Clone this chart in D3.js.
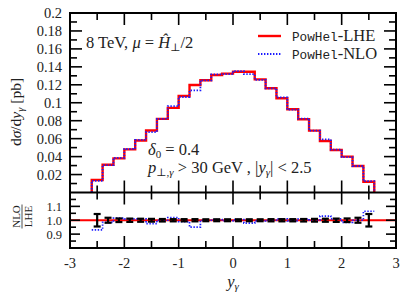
<!DOCTYPE html>
<html>
<head>
<meta charset="utf-8">
<script src="https://d3js.org/d3.v7.min.js"></script>
<style>
  body { margin: 0; background: #fff; }
  svg { display: block; }
  text { font-family: "Liberation Serif", "DejaVu Serif", serif; fill: #222; }
  .mono { font-family: "Liberation Mono", "DejaVu Sans Mono", monospace; }
</style>
</head>
<body>
<svg id="chart" width="415" height="299"></svg>
<script>
// bin edges in y_gamma
var binEdges = [-2.6, -2.4, -2.2, -2.0, -1.8, -1.6, -1.4, -1.2, -1.0, -0.8, -0.6, -0.4, -0.2,
                0.0, 0.2, 0.4, 0.6, 0.8, 1.0, 1.2, 1.4, 1.6, 1.8, 2.0, 2.2, 2.4, 2.6];
// PowHel-LHE dsigma/dy [pb]
var lheValues = [0.014, 0.031, 0.038, 0.048, 0.058, 0.069, 0.082, 0.0943, 0.1075, 0.1198, 0.125, 0.1309, 0.1325,
                 0.1346, 0.1346, 0.1261, 0.1161, 0.105, 0.0927, 0.0816, 0.0689, 0.0574, 0.0474, 0.040, 0.0295, 0.012];
// NLO / LHE ratio
var ratioValues = [0.93, 0.985, 1.015, 1.01, 1.01, 0.975, 1.0, 1.02, 0.99, 0.95, 1.0, 1.005, 0.995,
                   1.005, 0.98, 0.995, 1.0, 1.01, 0.995, 1.01, 1.0, 1.03, 1.01, 0.985, 1.0, 1.065];
// statistical error on ratio
var ratioErrors = [0.045, 0.018, 0.013, 0.012, 0.011, 0.01, 0.009, 0.008, 0.008, 0.008, 0.007, 0.007, 0.007,
                   0.007, 0.007, 0.007, 0.008, 0.008, 0.008, 0.009, 0.01, 0.011, 0.012, 0.013, 0.018, 0.045];
var xTicks = [-3, -2, -1, 0, 1, 2, 3];
var yTicks = [0.02, 0.04, 0.06, 0.08, 0.1, 0.12, 0.14, 0.16, 0.18, 0.2];
var yTickLabels = ["0.02", "0.04", "0.06", "0.08", "0.1", "0.12", "0.14", "0.16", "0.18", "0.2"];
var rTicks = [0.9, 1.0, 1.1];
var rTickLabels = ["0.9", "1.0", "1.1"];

var nloValues = lheValues.map(function (v, i) { return v * ratioValues[i]; });

var L = 70, R = 396, T = 13, MB = 192.5, RB = 248;
var svg = d3.select("#chart");

var x = d3.scaleLinear().domain([-3, 3]).range([L, R]);
var y = d3.scaleLinear().domain([0, 0.2]).range([MB, T]);
var yr = d3.scaleLinear().domain([0.8, 1.2]).range([RB, MB]);

function mainPts(vals) {
    var p = [[binEdges[0], 0]];
    vals.forEach(function (v, i) { p.push([binEdges[i], v]); });
    p.push([binEdges[binEdges.length - 1], 0]);
    return p;
}
function ratioPts(vals) {
    var p = vals.map(function (v, i) { return [binEdges[i], v]; });
    p.push([binEdges[binEdges.length - 1], vals[vals.length - 1]]);
    return p;
}
var lineMain = d3.line().x(function (d) { return x(d[0]); }).y(function (d) { return y(d[1]); }).curve(d3.curveStepAfter);
var lineRatio = d3.line().x(function (d) { return x(d[0]); }).y(function (d) { return yr(d[1]); }).curve(d3.curveStepAfter);

// histograms
svg.append("path").attr("d", lineMain(mainPts(lheValues)))
    .attr("fill", "none").attr("stroke", "#ff0000").attr("stroke-width", 2.4);
svg.append("path").attr("d", lineMain(mainPts(nloValues)))
    .attr("fill", "none").attr("stroke", "#1a1aff").attr("stroke-width", 1.8)
    .attr("stroke-dasharray", "1.4,1.6");

// ratio panel
svg.append("line").attr("x1", L).attr("x2", R).attr("y1", yr(1)).attr("y2", yr(1))
    .attr("stroke", "#ff0000").attr("stroke-width", 2);
svg.append("path").attr("d", lineRatio(ratioPts(ratioValues)))
    .attr("fill", "none").attr("stroke", "#1a1aff").attr("stroke-width", 1.7)
    .attr("stroke-dasharray", "1.4,1.6");

var eb = svg.append("g").attr("stroke", "#000").attr("stroke-width", 2.2);
ratioErrors.forEach(function (e, i) {
    var cx = x((binEdges[i] + binEdges[i + 1]) / 2);
    eb.append("line").attr("x1", cx).attr("x2", cx).attr("y1", yr(1 + e)).attr("y2", yr(1 - e));
    eb.append("line").attr("x1", cx - 3.5).attr("x2", cx + 3.5).attr("y1", yr(1 + e)).attr("y2", yr(1 + e));
    eb.append("line").attr("x1", cx - 3.5).attr("x2", cx + 3.5).attr("y1", yr(1 - e)).attr("y2", yr(1 - e));
});

// ticks
var tk = svg.append("g").attr("stroke", "#000").attr("stroke-width", 1.6);
var xMinor = d3.range(-2.5, 3, 1);
function xTickRow(yy, dir) {
    xTicks.forEach(function (t) {
        tk.append("line").attr("x1", x(t)).attr("x2", x(t)).attr("y1", yy).attr("y2", yy + dir * 12);
    });
    xMinor.forEach(function (t) {
        tk.append("line").attr("x1", x(t)).attr("x2", x(t)).attr("y1", yy).attr("y2", yy + dir * 7);
    });
}
xTickRow(T, 1);
xTickRow(MB, -1);
xTickRow(MB, 1);
xTickRow(RB, -1);

var yMinor = d3.range(0.01, 0.2, 0.02);
[[L, 1], [R, -1]].forEach(function (s) {
    yTicks.forEach(function (t) {
        tk.append("line").attr("x1", s[0]).attr("x2", s[0] + s[1] * 12).attr("y1", y(t)).attr("y2", y(t));
    });
    yMinor.forEach(function (t) {
        tk.append("line").attr("x1", s[0]).attr("x2", s[0] + s[1] * 7).attr("y1", y(t)).attr("y2", y(t));
    });
    rTicks.forEach(function (t) {
        tk.append("line").attr("x1", s[0]).attr("x2", s[0] + s[1] * 10).attr("y1", yr(t)).attr("y2", yr(t));
    });
    [0.85, 0.95, 1.05, 1.15].forEach(function (t) {
        tk.append("line").attr("x1", s[0]).attr("x2", s[0] + s[1] * 6).attr("y1", yr(t)).attr("y2", yr(t));
    });
});

// frames
svg.append("rect").attr("x", L).attr("y", T).attr("width", R - L).attr("height", RB - T)
    .attr("fill", "none").attr("stroke", "#000").attr("stroke-width", 2);
svg.append("line").attr("x1", L).attr("x2", R).attr("y1", MB).attr("y2", MB)
    .attr("stroke", "#000").attr("stroke-width", 2);

// tick labels
svg.selectAll(".yl").data(yTicks).enter().append("text")
    .attr("x", 62).attr("y", function (d) { return y(d) + 5; })
    .attr("text-anchor", "end").style("font-size", "14.5px")
    .text(function (d, i) { return yTickLabels[i]; });
svg.selectAll(".rl").data(rTicks).enter().append("text")
    .attr("x", 62).attr("y", function (d) { return yr(d) + 4.5; })
    .attr("text-anchor", "end").style("font-size", "12.5px")
    .text(function (d, i) { return rTickLabels[i]; });
svg.selectAll(".xl").data(xTicks).enter().append("text")
    .attr("x", function (d) { return x(d); }).attr("y", 268)
    .attr("text-anchor", "middle").style("font-size", "14.5px")
    .text(function (d) { return d; });

// axis titles
var xt = svg.append("text").attr("x", x(0)).attr("y", 287).attr("text-anchor", "middle").style("font-size", "16.5px");
xt.append("tspan").style("font-style", "italic").text("y");
xt.append("tspan").style("font-style", "italic").style("font-size", "11px").attr("dy", 3).text("γ");

var yt = svg.append("text").attr("transform", "translate(21,112) rotate(-90)")
    .attr("text-anchor", "middle").style("font-size", "15.5px");
yt.append("tspan").text("d");
yt.append("tspan").style("font-style", "italic").text("σ");
yt.append("tspan").text("/d");
yt.append("tspan").style("font-style", "italic").text("y");
yt.append("tspan").style("font-style", "italic").style("font-size", "10.5px").attr("dy", 3).text("γ");
yt.append("tspan").attr("dy", -3).text(" [pb]");

var rt = svg.append("g").attr("transform", "translate(22,216.5) rotate(-90)");
rt.append("text").attr("x", 0).attr("y", -2).attr("text-anchor", "middle").style("font-size", "11px").text("NLO");
rt.append("line").attr("x1", -12).attr("x2", 12).attr("y1", 0).attr("y2", 0).attr("stroke", "#222").attr("stroke-width", 0.8);
rt.append("text").attr("x", 0).attr("y", 10).attr("text-anchor", "middle").style("font-size", "11px").text("LHE");

// top-left label
var tl = svg.append("text").attr("x", 86).attr("y", 48).style("font-size", "16.5px");
tl.append("tspan").text("8 TeV, ");
tl.append("tspan").style("font-style", "italic").text("μ");
tl.append("tspan").text(" = ");
tl.append("tspan").style("font-style", "italic").text("Ĥ");
tl.append("tspan").style("font-size", "11px").attr("dy", 3).text("⊥");
tl.append("tspan").attr("dy", -3).text("/2");

// cuts
var c1 = svg.append("text").attr("x", 148).attr("y", 155).style("font-size", "16.5px");
c1.append("tspan").style("font-style", "italic").text("δ");
c1.append("tspan").style("font-size", "11px").attr("dy", 3).text("0");
c1.append("tspan").attr("dy", -3).text(" = 0.4");
var c2 = svg.append("text").attr("x", 148).attr("y", 173).style("font-size", "16.5px");
c2.append("tspan").style("font-style", "italic").text("p");
c2.append("tspan").style("font-size", "11px").attr("dy", 3).text("⊥,");
c2.append("tspan").style("font-size", "11px").style("font-style", "italic").text("γ");
c2.append("tspan").attr("dy", -3).text(" > 30 GeV , |");
c2.append("tspan").style("font-style", "italic").text("y");
c2.append("tspan").style("font-size", "11px").style("font-style", "italic").attr("dy", 3).text("γ");
c2.append("tspan").attr("dy", -3).text("| < 2.5");

// legend
svg.append("line").attr("x1", 258).attr("x2", 281).attr("y1", 36).attr("y2", 36)
    .attr("stroke", "#ff0000").attr("stroke-width", 2.4);
svg.append("line").attr("x1", 258).attr("x2", 281).attr("y1", 54).attr("y2", 54)
    .attr("stroke", "#1a1aff").attr("stroke-width", 1.8).attr("stroke-dasharray", "1.4,1.6");
var l1 = svg.append("text").attr("x", 292).attr("y", 41).style("font-size", "16.5px");
l1.append("tspan").attr("class", "mono").style("font-size", "12.7px").text("PowHel");
l1.append("tspan").text("-LHE");
var l2 = svg.append("text").attr("x", 292).attr("y", 59).style("font-size", "16.5px");
l2.append("tspan").attr("class", "mono").style("font-size", "12.7px").text("PowHel");
l2.append("tspan").text("-NLO");
</script>
</body>
</html>
